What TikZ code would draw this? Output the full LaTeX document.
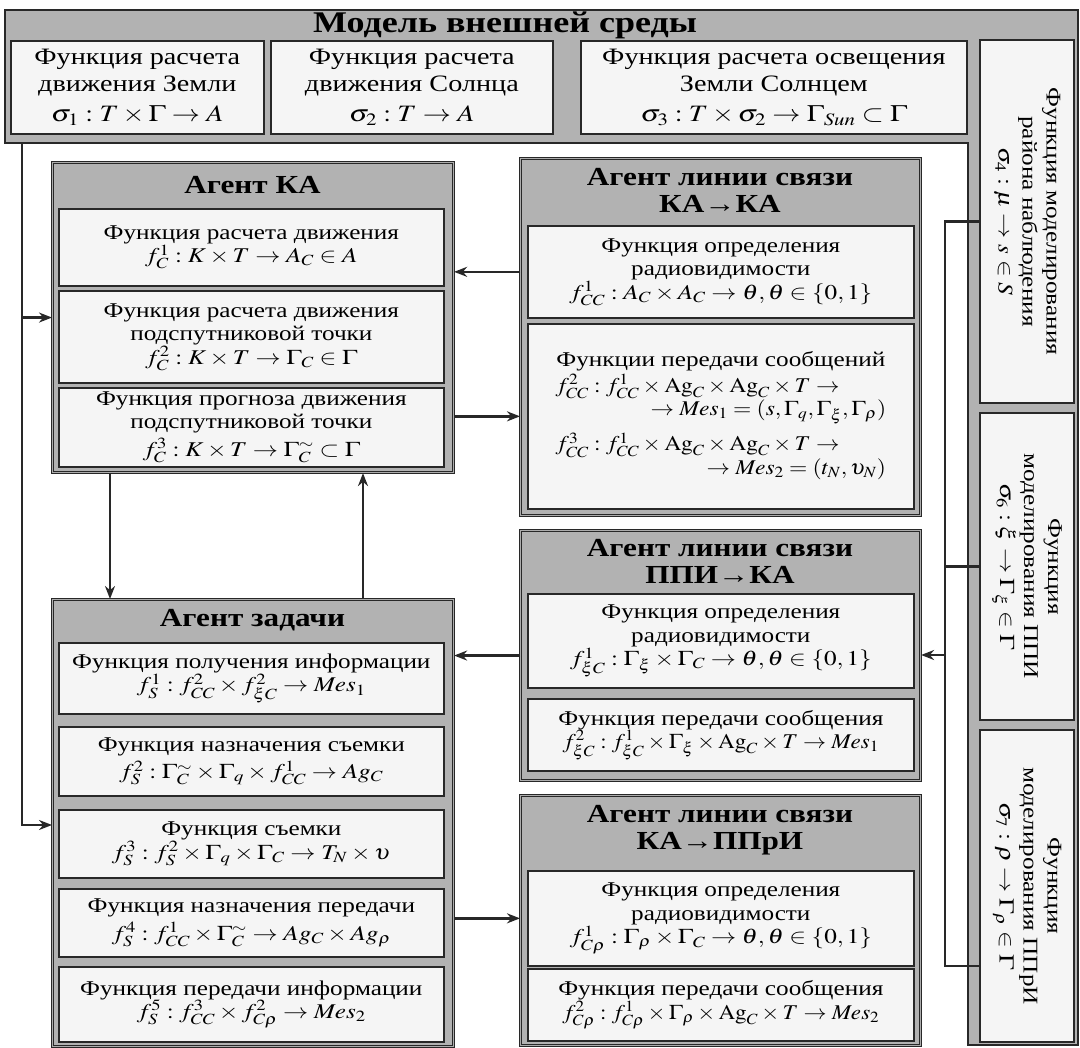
\documentclass[tikz,border=0pt]{standalone}
\usepackage{mathptmx}
\usepackage{graphicx}
\usepackage{fontspec}
\setmainfont{Liberation Serif}[FakeStretch=1.2]
\usetikzlibrary{positioning, arrows.meta}
\definecolor{bandgray}{RGB}{178,178,178}
\definecolor{boxfill}{RGB}{245,245,245}
\definecolor{linedark}{RGB}{40,40,40}
\newcommand\fm[1]{\scalebox{1.2}[1]{$#1$}}
\tikzset{
  envband/.style={draw=linedark, line width=1.6pt, fill=bandgray},
  agent/.style={
    draw=linedark, line width=1.1pt, double=gray!65, double distance=1.6pt,
    fill=bandgray, anchor=north west, inner sep=0pt
  },
  head/.style={font=\fontsize{26}{27}\selectfont\bfseries, align=center},
  fbox/.style={
    draw=linedark, line width=1.7pt, fill=boxfill, anchor=north west,
    align=center, inner sep=2pt, font=\fontsize{21}{23.5}\selectfont
  },
  efbox/.style={fbox, font=\fontsize{23.5}{26.5}\selectfont},
  vbox/.style={fbox, font=\fontsize{21}{24}\selectfont, rotate=-90, anchor=center},
  arrow/.style={->, >={Stealth[length=13pt, width=10pt]}, line width=2.6pt, linedark},
  link/.style={line width=2.6pt, linedark}
}

\begin{document}
\begin{tikzpicture}[x=1pt, y=-1pt]
  \useasboundingbox (0,0) rectangle (1080,1048);
  % environment model
  \draw[envband] (5,10) -- (1078,10) -- (1078,1045) -- (968,1045)
    -- (968,143) -- (5,143) -- cycle;
  \node[head, font=\fontsize{30}{30}\selectfont\bfseries] (envtitle) at (505,25) {Модель внешней среды};
  \node[efbox, minimum width=253pt, minimum height=93pt] (e1) at (10,40)
    {Функция расчета\\движения Земли\\[4pt]\fm{\sigma_1:T\times\Gamma\to A}};
  \node[efbox, minimum width=282pt, minimum height=93pt] (e2) at (270,40)
    {Функция расчета\\движения Солнца\\[4pt]\fm{\sigma_2:T\to A}};
  \node[efbox, minimum width=386pt, minimum height=93pt] (e3) at (580,40)
    {Функция расчета освещения\\Земли Солнцем\\[4pt]\fm{\sigma_3:T\times\sigma_2\to\Gamma_{\mathit{Sun}}\subset\Gamma}};
  \node[vbox, minimum width=363pt, minimum height=94pt] (rb4) at (1027,221.5)
    {Функция моделирования\\района наблюдения\\\fm{\sigma_4:\mu\to s\in S}};
  \node[vbox, minimum width=307pt, minimum height=94pt] (rb5) at (1027,566.5)
    {Функция\\моделирования ППИ\\\fm{\sigma_6:\xi\to\Gamma_\xi\in\Gamma}};
  \node[vbox, minimum width=312pt, minimum height=94pt] (rb6) at (1027,886)
    {Функция\\моделирования ППрИ\\\fm{\sigma_7:\rho\to\Gamma_\rho\in\Gamma}};

  % agent KA
  \node[agent, minimum width=401pt, minimum height=310pt] (ka) at (52,162) {};
  \node[head] (kahead) at (252.5,185) {Агент КА};
  \node[fbox, minimum width=385pt, minimum height=77pt] (ka1) at (58,208)
    {Функция расчета движения\\\fm{f_C^1:K\times T\to A_C\in A}};
  \node[fbox, minimum width=385pt, minimum height=92pt] (ka2) at (58,290)
    {Функция расчета движения\\подспутниковой точки\\\fm{f_C^2:K\times T\to\Gamma_C\in\Gamma}};
  \node[fbox, minimum width=385pt, minimum height=79pt] (ka3) at (58,387)
    {Функция прогноза движения\\подспутниковой точки\\[4pt]\fm{f_C^3:K\times T\to\Gamma_C^{\sim}\subset\Gamma}};

  % link agent KA-KA
  \node[agent, minimum width=400pt, minimum height=357pt] (kk) at (520,158) {};
  \node[head] (kkhead) at (720,190) {Агент линии связи\\КА→КА};
  \node[fbox, minimum width=386pt, minimum height=92pt] (kk1) at (527,225)
    {Функция определения\\радиовидимости\\\fm{f_{CC}^1:A_C\times A_C\to\theta,\theta\in\{0,1\}}};
  \node[fbox, minimum width=386pt, minimum height=185pt] (kk2) at (527,323)
    {Функции передачи сообщений\\[2pt]
     \scalebox{1.12}[1]{$\begin{array}{@{}l@{}}
      f_{CC}^2:f_{CC}^1\times\mathrm{Ag}_C\times\mathrm{Ag}_C\times T\to\\
      \hspace{85pt}\to\mathit{Mes}_1=(s,\Gamma_q,\Gamma_\xi,\Gamma_\rho)\\[10pt]
      f_{CC}^3:f_{CC}^1\times\mathrm{Ag}_C\times\mathrm{Ag}_C\times T\to\\
      \hspace{135pt}\to\mathit{Mes}_2=(t_N,\upsilon_N)
     \end{array}$}};

  % link agent PPI-KA
  \node[agent, minimum width=400pt, minimum height=250pt] (pk) at (520,530) {};
  \node[head] (pkhead) at (720,561) {Агент линии связи\\ППИ→КА};
  \node[fbox, minimum width=386pt, minimum height=94pt] (pk1) at (527,593)
    {Функция определения\\радиовидимости\\\fm{f_{\xi C}^1:\Gamma_\xi\times\Gamma_C\to\theta,\theta\in\{0,1\}}};
  \node[fbox, minimum width=386pt, minimum height=72pt] (pk2) at (527,698)
    {Функция передачи сообщения\\\scalebox{1.1}[1]{$f_{\xi C}^2:f_{\xi C}^1\times\Gamma_\xi\times\mathrm{Ag}_C\times T\to\mathit{Mes}_1$}};

  % link agent KA-PPrI
  \node[agent, minimum width=400pt, minimum height=250pt] (kp) at (520,795) {};
  \node[head] (kphead) at (720,830) {Агент линии связи\\КА→ППрИ};
  \node[fbox, minimum width=386pt, minimum height=95pt] (kp1) at (527,870)
    {Функция определения\\радиовидимости\\\fm{f_{C\rho}^1:\Gamma_\rho\times\Gamma_C\to\theta,\theta\in\{0,1\}}};
  \node[fbox, minimum width=386pt, minimum height=72pt] (kp2) at (527,968)
    {Функция передачи сообщения\\\scalebox{1.1}[1]{$f_{C\rho}^2:f_{C\rho}^1\times\Gamma_\rho\times\mathrm{Ag}_C\times T\to\mathit{Mes}_2$}};

  % task agent
  \node[agent, minimum width=401pt, minimum height=447pt] (tsk) at (52,599) {};
  \node[head] (tskhead) at (252.5,620) {Агент задачи};
  \node[fbox, minimum width=385pt, minimum height=71pt] (ts1) at (58,642)
    {Функция получения информации\\\fm{f_S^1:f_{CC}^2\times f_{\xi C}^2\to\mathit{Mes}_1}};
  \node[fbox, minimum width=385pt, minimum height=69pt] (ts2) at (58,726)
    {Функция назначения съемки\\[4pt]\fm{f_S^2:\Gamma_C^{\sim}\times\Gamma_q\times f_{CC}^1\to Ag_C}};
  \node[fbox, minimum width=385pt, minimum height=68pt] (ts3) at (58,809)
    {Функция съемки\\\fm{f_S^3:f_S^2\times\Gamma_q\times\Gamma_C\to T_N\times\upsilon}};
  \node[fbox, minimum width=385pt, minimum height=68pt] (ts4) at (58,888)
    {Функция назначения передачи\\[4pt]\fm{f_S^4:f_{CC}^1\times\Gamma_C^{\sim}\to Ag_C\times Ag_\rho}};
  \node[fbox, minimum width=385pt, minimum height=75pt] (ts5) at (58,966)
    {Функция передачи информации\\\fm{f_S^5:f_{CC}^3\times f_{C\rho}^2\to\mathit{Mes}_2}};

  % connectors
  \coordinate (envL) at (22,143);
  \coordinate (shotin) at (52,825);
  \coordinate (bus) at (945,655);
  \coordinate (pprin) at (980,966);
  \draw[arrow] (envL) |- (shotin);
  \draw[arrow] (envL |- ka.west) -- (ka.west);
  \draw[arrow] (kk1.west -| kk.west) -- (kk1.west -| ka.east);
  \draw[arrow] (kk2.west -| ka.east) -- (kk2.west -| kk.west);
  \draw[arrow] ([xshift=58pt]ka.south west) -- ([xshift=58pt]tsk.north west);
  \draw[arrow] ([xshift=311pt]tsk.north west) -- ([xshift=311pt]ka.south west);
  \draw[arrow] (pk.west) -- (pk.west -| tsk.east);
  \draw[arrow] (kp1.west -| tsk.east) -- (kp1.west -| kp.west);
  \draw[link] (rb4.south) -| (bus |- pprin) -- (pprin);
  \draw[link] (rb5.south) -- (rb5.south -| bus);
  \draw[arrow] (bus) -- (bus -| pk.east);
\end{tikzpicture}
\end{document}
